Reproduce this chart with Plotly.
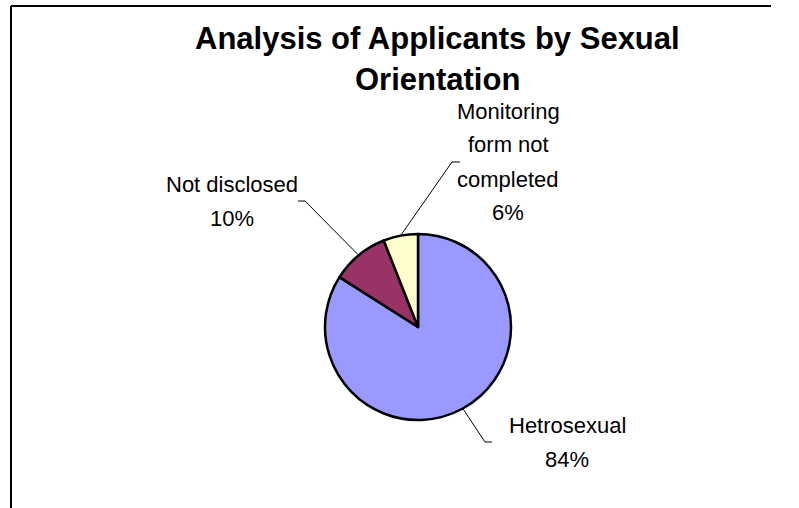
import math
import plotly.graph_objects as go

# ---- data ----
categories = ["Hetrosexual", "Not disclosed", "Monitoring form not completed"]
values = [84, 10, 6]
label_lines = [["Hetrosexual", "84%"], ["Not disclosed", "10%"], ["Monitoring", "form not", "completed", "6%"]]
colors = ["#9999FF", "#993366", "#FFFFCC"]
title_lines = ["Analysis of Applicants by Sexual", "Orientation"]

# ---- layout constants (pixels) ----
W, H = 799, 508
CX, CY, R = 418, 327, 93
FONT = "Liberation Sans, Arial, sans-serif"
LBL_SIZE = 22
LINE_GAP = 34
# label block centre (x, y) and leader elbow (x, y), end of horizontal tick (x)
label_pos = [(567, 442), (232, 201), (508, 162)]
elbows = [(485, 442, 492), (305, 201, 298), (452, 162, 460)]


def px(x):
    return x / W


def py(y):
    return 1 - y / H


fig = go.Figure(go.Pie(
    labels=categories, values=values, sort=False, direction="clockwise", rotation=0,
    marker=dict(colors=colors, line=dict(color="black", width=2.5)),
    textinfo="none", hoverinfo="label+percent",
    domain=dict(x=[px(CX - R), px(CX + R)], y=[py(CY + R), py(CY - R)]),
))

annotations = []
shapes = []
total = sum(values)
cum = 0
for i, v in enumerate(values):
    theta = 2 * math.pi * (cum + v / 2) / total
    cum += v
    ex = CX + R * math.sin(theta)
    ey = CY - R * math.cos(theta)
    bx, by, tx = elbows[i]
    shapes.append(dict(type="path", xref="paper", yref="paper",
                       path=f"M {px(ex)} {py(ey)} L {px(bx)} {py(by)} L {px(tx)} {py(by)}",
                       line=dict(color="black", width=1)))
    lx, ly = label_pos[i]
    n = len(label_lines[i])
    for k, t in enumerate(label_lines[i]):
        yy = ly + (k - (n - 1) / 2) * LINE_GAP
        annotations.append(dict(text=t, x=px(lx), y=py(yy), xref="paper", yref="paper",
                                showarrow=False, xanchor="center", yanchor="middle",
                                font=dict(family=FONT, size=LBL_SIZE, color="black")))

title_y = [39, 80]
for t, yy in zip(title_lines, title_y):
    annotations.append(dict(text=f"<b>{t}</b>", x=px(437), y=py(yy), xref="paper", yref="paper",
                            showarrow=False, xanchor="center", yanchor="middle",
                            font=dict(family=FONT, size=31, color="black")))

# chart-area frame (top and left edges visible)
shapes.append(dict(type="line", xref="paper", yref="paper", x0=px(11), x1=px(771), y0=py(6), y1=py(6),
                   line=dict(color="black", width=2)))
shapes.append(dict(type="line", xref="paper", yref="paper", x0=px(11), x1=px(11), y0=py(6), y1=py(H + 2),
                   line=dict(color="black", width=2)))

fig.update_layout(width=W, height=H, margin=dict(l=0, r=0, t=0, b=0),
                  paper_bgcolor="white", plot_bgcolor="white", showlegend=False,
                  annotations=annotations, shapes=shapes)

fig.write_html("out.html", config={"displayModeBar": False},
               post_script="document.body.style.margin='0px';document.body.style.overflow='hidden';")
